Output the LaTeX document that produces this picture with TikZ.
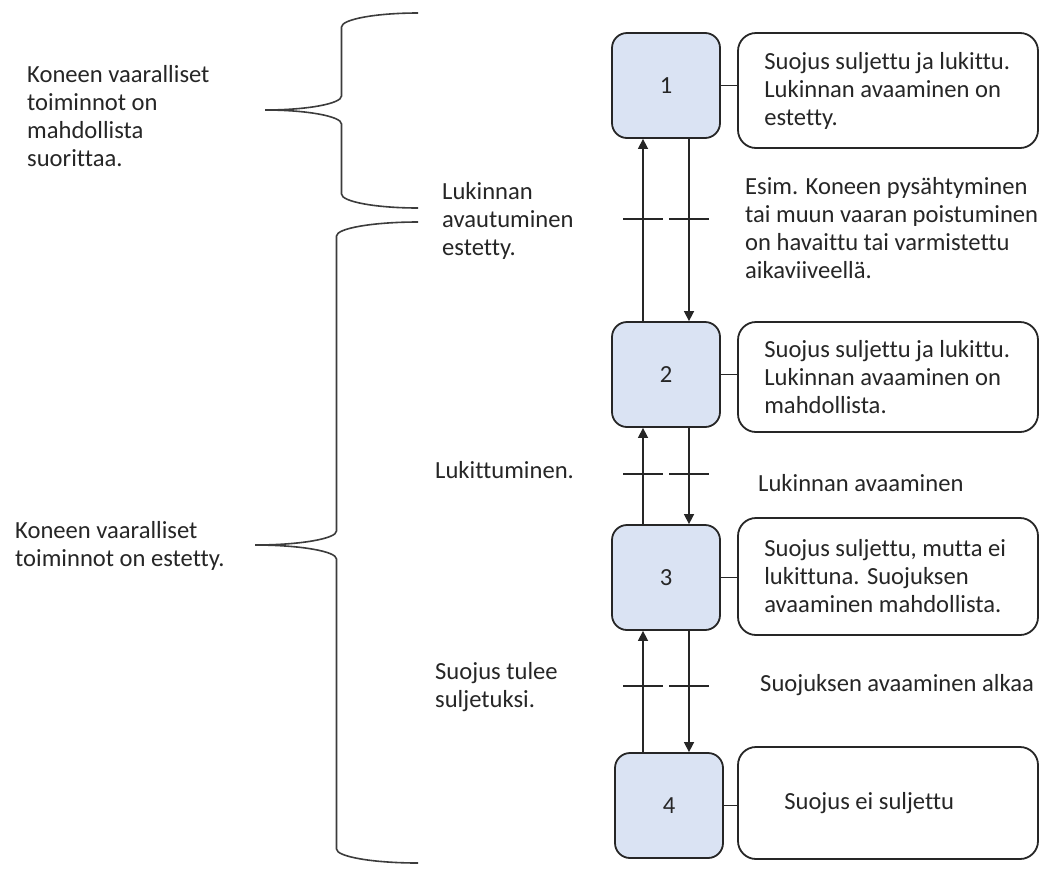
\documentclass[tikz,border=0pt]{standalone}
\usepackage{fontspec}
\setmainfont{Carlito}[Ligatures=NoCommon]
\usetikzlibrary{arrows.meta}
\definecolor{stateblue}{HTML}{DAE3F3}
\definecolor{ink}{HTML}{262626}
\definecolor{braceink}{HTML}{3C3C3C}

\begin{document}
\begin{tikzpicture}[x=1pt,y=-1pt,
  every node/.style={font=\fontsize{24.6}{28}\selectfont, text=ink},
  statebox/.style={draw=ink, line width=1.8pt, fill=stateblue, rounded corners=15pt,
                   minimum width=108pt, minimum height=105pt, inner sep=0pt},
  infobox/.style={draw=ink, line width=1.8pt, fill=white, rounded corners=18pt,
                  minimum width=300pt, inner sep=0pt},
  note/.style={align=left, anchor=west, inner sep=0pt},
  flow/.style={draw=ink, line width=1.5pt, -{Triangle[width=10pt,length=10pt]}},
  crossbar/.style={draw=ink, line width=1.3pt},
  link/.style={draw=ink, line width=1.5pt},
  bracepath/.style={draw=braceink, line width=1.6pt}]

\fill[white] (0,0) rectangle (1040,868);
\useasboundingbox (0,0) rectangle (1040,868);

% state boxes
\node[statebox] (b1) at (666,85.5)  {1};
\node[statebox] (b2) at (666,374.5) {2};
\node[statebox] (b3) at (666,577.5) {3};
\node[statebox] (b4) at (669,805.5) {4};

% description boxes
\node[infobox, minimum height=115pt] (r1) at (888,90.5) {};
\node[infobox, minimum height=110pt] (r2) at (888,377) {};
\node[infobox, minimum height=117pt] (r3) at (888,576.5) {};
\node[infobox, minimum height=112pt] (r4) at (888,803) {};

\node[note] (t1) at ([xshift=27pt]r1.west) {Suojus suljettu ja lukittu.\\Lukinnan avaaminen on\\estetty.};
\node[note] (t2) at ([xshift=27pt]r2.west) {Suojus suljettu ja lukittu.\\Lukinnan avaaminen on\\mahdollista.};
\node[note] (t3) at ([xshift=27pt]r3.west) {Suojus suljettu, mutta ei\\lukittuna. Suojuksen\\avaaminen mahdollista.};
\node[note] (t4) at ([xshift=47pt]r4.west) {Suojus ei suljettu};

% box to description links
\draw[link] (b1.east) -- (b1.east -| r1.west);
\draw[link] (b2.east) -- (b2.east -| r2.west);
\draw[link] (b3.east) -- (b3.east -| r3.west);
\draw[link] (b4.east) -- (b4.east -| r4.west);

% transitions
\draw[flow] ([xshift=-23pt]b2.north) -- ([xshift=-23pt]b1.south);
\draw[flow] ([xshift=23pt]b1.south) -- ([xshift=23pt]b2.north);
\draw[flow] ([xshift=-23pt]b3.north) -- ([xshift=-23pt]b2.south);
\draw[flow] ([xshift=23pt]b2.south) -- ([xshift=23pt]b3.north);
\draw[flow] ([xshift=-23pt]b3.south |- b4.north) -- ([xshift=-23pt]b3.south);
\draw[flow] ([xshift=23pt]b3.south) -- ([xshift=23pt]b3.south |- b4.north);

% transition condition bars
\draw[crossbar] (623,219) -- (663,219);
\draw[crossbar] (669,219) -- (709,219);
\draw[crossbar] (623,474) -- (663,474);
\draw[crossbar] (669,474) -- (709,474);
\draw[crossbar] (623,686) -- (663,686);
\draw[crossbar] (669,686) -- (709,686);

% transition labels
\node[note] (c1) at (442,221) {Lukinnan\\avautuminen\\estetty.};
\node[note] (c2) at (745,228) {Esim. Koneen pysähtyminen\\tai muun vaaran poistuminen\\on havaittu tai varmistettu\\aikaviiveellä.};
\node[note] (c3) at (435,470) {Lukittuminen.};
\node[note] (c4) at (758,483) {Lukinnan avaaminen};
\node[note] (c5) at (435,687) {Suojus tulee\\suljetuksi.};
\node[note] (c6) at (760,685) {Suojuksen avaaminen alkaa};

% machine status groups
\node[note] (g1) at (27,116) {Koneen vaaralliset\\toiminnot on\\mahdollista\\suorittaa.};
\node[note] (g2) at (15,546) {Koneen vaaralliset\\toiminnot on estetty.};

\draw[bracepath] (418,13) .. controls (375.8,13) and (341.5,19.3) .. (341.5,27)
  -- (341.5,96) .. controls (341.5,103.7) and (307.2,110) .. (265,110)
  .. controls (307.2,110) and (341.5,116.3) .. (341.5,124)
  -- (341.5,194) .. controls (341.5,201.7) and (375.8,208) .. (418,208);

\draw[bracepath] (418,222) .. controls (373,222) and (336.5,228.3) .. (336.5,236)
  -- (336.5,531) .. controls (336.5,538.7) and (300,545) .. (255,545)
  .. controls (300,545) and (336.5,551.3) .. (336.5,559)
  -- (336.5,849) .. controls (336.5,856.7) and (373,863) .. (418,863);
\end{tikzpicture}
\end{document}
